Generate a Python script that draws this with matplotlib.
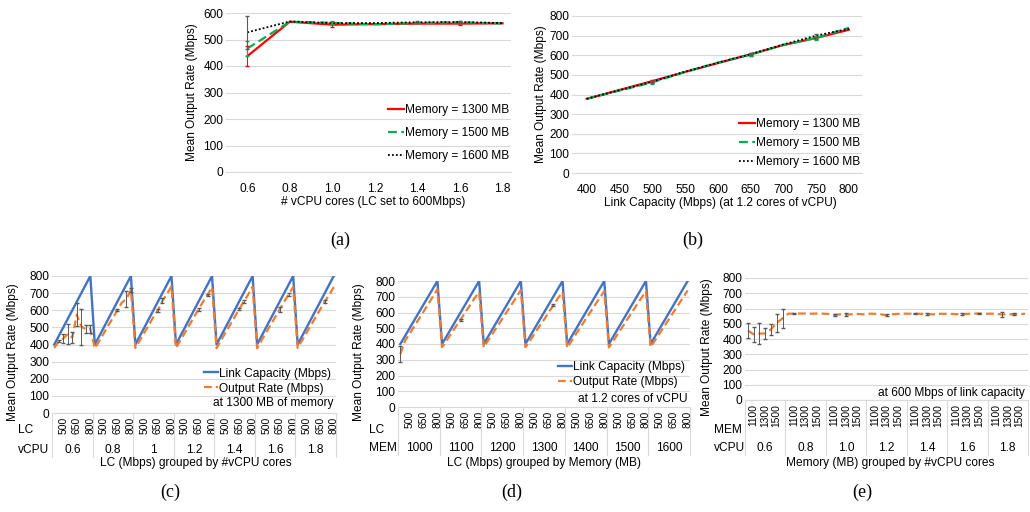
import numpy as np
import matplotlib
matplotlib.use("Agg")
import matplotlib.pyplot as plt
from matplotlib.lines import Line2D

plt.rcParams['font.family'] = ['Liberation Sans', 'DejaVu Sans']

W, H = 1030, 512

# ---------------- data ----------------
a_cores = ['0.6', '0.8', '1.0', '1.2', '1.4', '1.6', '1.8']
a_m1300 = [437, 567, 556, 558, 560, 560, 561]
a_m1300_err = [37, 0, 10, 0, 0, 4, 0]
a_m1500 = [466, 567, 563, 557, 562, 565, 560]
a_m1500_err = [30, 0, 5, 0, 0, 3, 0]
a_m1600 = [527, 568, 562, 562, 565, 566, 562]
a_m1600_err = [63, 0, 0, 0, 3, 3, 0]

b_lc = ['400', '450', '500', '550', '600', '650', '700', '750', '800']
b_m1300 = [378, 423, 468, 515, 560, 605, 652, 688, 730]
b_m1300_err = [0, 0, 6, 0, 0, 8, 0, 5, 0]
b_m1500 = [378, 420, 462, 515, 562, 603, 653, 688, 740]
b_m1500_err = [0, 0, 8, 0, 0, 5, 0, 8, 0]
b_m1600 = [378, 422, 465, 516, 562, 605, 655, 700, 735]
b_m1600_err = [0, 0, 5, 0, 0, 5, 0, 8, 0]

lc_levels = [400, 450, 500, 550, 600, 650, 700, 750, 800]
lc_tick_labels = ['500', '650', '800']

c_groups = ['0.6', '0.8', '1', '1.2', '1.4', '1.6', '1.8']
c_out = [
    [380, 418, 435, 462, 440, 575, 505, 488, 492],
    [378, 420, 466, 512, 555, 600, 645, 665, 718],
    [380, 425, 470, 515, 560, 600, 655, 695, 740],
    [380, 425, 470, 515, 560, 605, 650, 690, 735],
    [378, 425, 470, 515, 560, 605, 650, 690, 738],
    [378, 425, 470, 515, 560, 605, 650, 692, 735],
    [380, 425, 470, 515, 560, 605, 650, 690, 735],
]
c_err = [
    [0, 6, 28, 57, 33, 65, 105, 23, 23],
    [0, 0, 0, 0, 0, 6, 0, 45, 10],
    [0, 0, 0, 0, 0, 8, 15, 0, 0],
    [0, 0, 0, 0, 0, 10, 0, 6, 0],
    [0, 0, 0, 0, 0, 6, 10, 0, 0],
    [0, 0, 0, 0, 0, 15, 0, 6, 0],
    [0, 0, 0, 0, 0, 0, 10, 0, 0],
]

d_groups = ['1000', '1100', '1200', '1300', '1400', '1500', '1600']
d_out = [
    [335, 420, 465, 512, 558, 605, 652, 700, 748],
    [380, 422, 467, 512, 555, 600, 645, 690, 730],
    [378, 425, 470, 515, 560, 605, 650, 695, 742],
    [380, 422, 468, 512, 555, 600, 645, 690, 730],
    [375, 422, 468, 512, 558, 602, 648, 692, 735],
    [378, 422, 468, 512, 558, 602, 648, 692, 735],
    [380, 425, 470, 515, 560, 605, 650, 695, 740],
]
d_err = [
    [52, 0, 0, 0, 0, 0, 0, 0, 0],
    [0, 0, 0, 0, 6, 0, 0, 0, 0],
    [0, 0, 0, 0, 0, 0, 0, 0, 0],
    [0, 0, 0, 0, 0, 0, 6, 0, 0],
    [0, 0, 0, 0, 0, 0, 0, 0, 0],
    [0, 0, 0, 0, 0, 0, 0, 0, 0],
    [0, 0, 0, 0, 0, 0, 0, 0, 0],
]

e_mem_levels = [1000, 1100, 1200, 1300, 1400, 1500, 1600]
e_tick_labels = ['1100', '1300', '1500']
e_groups = ['0.6', '0.8', '1.0', '1.2', '1.4', '1.6', '1.8']
e_out = [
    [456, 430, 436, 436, 463, 505, 535],
    [566, 566, 567, 567, 566, 567, 566],
    [564, 558, 562, 560, 562, 564, 562],
    [566, 565, 562, 556, 562, 565, 566],
    [566, 566, 565, 562, 562, 565, 565],
    [565, 563, 562, 565, 566, 567, 565],
    [566, 566, 560, 563, 562, 564, 565],
]
e_err = [
    [50, 48, 70, 36, 37, 60, 65],
    [0, 4, 0, 0, 0, 0, 0],
    [0, 8, 0, 8, 0, 0, 0],
    [0, 0, 0, 6, 0, 0, 0],
    [0, 4, 0, 6, 0, 0, 0],
    [0, 0, 6, 0, 0, 6, 0],
    [0, 0, 18, 0, 6, 0, 0],
]

# ---------------- style ----------------
GRID = '#d9d9d9'
BLUE = '#4472C4'
ORANGE = '#ED7D31'
ERRC = '#595959'
FS = 8.6

fig = plt.figure(figsize=(W / 100, H / 100), dpi=100)


def box(l, r, t, b):
    return [l / W, 1 - b / H, (r - l) / W, (b - t) / H]


def ftext(x, y, s, **kw):
    fig.text(x / W, 1 - y / H, s, **kw)


def style_axes(ax, ymax):
    ax.set_ylim(0, ymax)
    ax.set_yticks(np.arange(0, ymax + 1, 100))
    ax.grid(axis='y', color=GRID, lw=0.8)
    ax.set_axisbelow(True)
    for s in ['top', 'right', 'left']:
        ax.spines[s].set_visible(False)
    ax.spines['bottom'].set_color(GRID)
    ax.tick_params(axis='both', length=0, labelsize=FS, colors='#000000')
    ax.tick_params(axis='y', pad=2)


def series(ax, x, y, err, color, lw, ls, ecolor, label, capsize=1.5, elw=0.8, z=2):
    x = np.asarray(x, float)
    y = np.asarray(y, float)
    err = np.asarray(err, float)
    ax.plot(x, y, color=color, lw=lw, ls=ls, label=label, zorder=z)
    m = err > 0
    if m.any():
        ax.errorbar(x[m], y[m], yerr=err[m], fmt='none', ecolor=ecolor,
                    elinewidth=elw, capsize=capsize, zorder=z + 0.5)


RED_LS, GREEN_LS, BLACK_LS = '-', (0, (4, 2)), (0, (1, 1.2))


def mem_legend(ax, anchor_y, spacing):
    handles = [Line2D([], [], color='#FF0000', lw=1.6, ls=RED_LS),
               Line2D([], [], color='#00B050', lw=1.6, ls=GREEN_LS),
               Line2D([], [], color='#000000', lw=1.3, ls=BLACK_LS)]
    labels = ['Memory = 1300 MB', 'Memory = 1500 MB', 'Memory = 1600 MB']
    ax.legend(handles, labels, loc='lower right', bbox_to_anchor=(1.01, anchor_y),
              frameon=False, fontsize=FS, handlelength=1.3, handletextpad=0.1,
              labelspacing=spacing, borderaxespad=0)


# ---------------- panel (a) ----------------
ax = fig.add_axes(box(226, 511, 13, 172))
style_axes(ax, 600)
xa = np.arange(len(a_cores))
series(ax, xa, a_m1300, a_m1300_err, '#FF0000', 1.6, RED_LS, '#FF0000', 'Memory = 1300 MB')
series(ax, xa, a_m1500, a_m1500_err, '#00B050', 1.6, GREEN_LS, '#00B050', 'Memory = 1500 MB')
series(ax, xa, a_m1600, a_m1600_err, '#000000', 1.3, BLACK_LS, ERRC, 'Memory = 1600 MB')
ax.set_xlim(-0.5, 6.2)
ax.set_xticks(xa)
ax.set_xticklabels(a_cores)
ax.tick_params(axis='x', pad=8)
mem_legend(ax, 0.03, 0.95)
ax.set_ylabel('Mean Output Rate (Mbps)', fontsize=FS, labelpad=4)
ftext(373, 202, '# vCPU cores (LC set to 600Mbps)', ha='center', va='center', fontsize=FS)

# ---------------- panel (b) ----------------
ax = fig.add_axes(box(572, 862, 16, 173))
style_axes(ax, 800)
xb = np.arange(len(b_lc))
series(ax, xb, b_m1300, b_m1300_err, '#FF0000', 1.6, RED_LS, '#FF0000', 'Memory = 1300 MB')
series(ax, xb, b_m1500, b_m1500_err, '#00B050', 1.6, GREEN_LS, '#00B050', 'Memory = 1500 MB')
series(ax, xb, b_m1600, b_m1600_err, '#000000', 1.3, BLACK_LS, ERRC, 'Memory = 1600 MB')
ax.set_xlim(-0.45, 8.4)
ax.set_xticks(xb)
ax.set_xticklabels(b_lc)
ax.tick_params(axis='x', pad=8)
mem_legend(ax, 0.0, 0.6)
ax.set_ylabel('Mean Output Rate (Mbps)', fontsize=FS, labelpad=2)
ftext(720, 203, 'Link Capacity (Mbps) (at 1.2 cores of vCPU)', ha='center', va='center',
      fontsize=FS)


# ---------------- grouped panels ----------------
def grouped_panel(rect, levels, groups, out, err, tick_idx, tick_labels,
                  row1, row2, sep_bottom_px, grp_y_px, row_x_px, row1_y_px,
                  xlabel, xlabel_x, note, show_lc, leg_y, note_y, tick_fs, ylab_x):
    l, r, t, b = rect
    ax = fig.add_axes(box(l, r, t, b))
    style_axes(ax, 800)
    n = len(levels)
    ng = len(groups)
    x = np.arange(n * ng)
    y = np.concatenate([np.asarray(g, float) for g in out])
    e = np.concatenate([np.asarray(g, float) for g in err])
    if show_lc:
        ax.plot(x, np.tile(levels, ng), color=BLUE, lw=1.7, zorder=2)
    series(ax, x, y, e, ORANGE, 1.6, (0, (3.5, 1.8)), ERRC, 'Output Rate (Mbps)',
           capsize=1.2, elw=0.7, z=3)
    ax.set_xlim(-0.5, n * ng - 0.5)
    ticks = [gi * n + k for gi in range(ng) for k in tick_idx]
    ax.set_xticks(ticks)
    ax.set_xticklabels(tick_labels * ng, rotation=90, fontsize=tick_fs, va='top')
    ax.tick_params(axis='x', pad=3)
    hpx = b - t
    trans = ax.get_xaxis_transform()
    depth = -(sep_bottom_px - b) / hpx
    for gi in range(ng + 1):
        ax.plot([gi * n - 0.5] * 2, [0, depth], transform=trans, color=GRID, lw=0.8,
                clip_on=False)
    gy = -(grp_y_px - b) / hpx
    for gi, g in enumerate(groups):
        ax.text(gi * n + (n - 1) / 2, gy, g, transform=trans, ha='center', va='center',
                fontsize=FS)
    ftext(row_x_px, row1_y_px, row1, ha='left', va='center', fontsize=FS)
    ftext(row_x_px, grp_y_px, row2, ha='left', va='center', fontsize=FS)
    ftext(xlabel_x, 463, xlabel, ha='center', va='center', fontsize=FS)
    ftext(ylab_x, (t + b) / 2 + 8, 'Mean Output Rate (Mbps)', rotation=90, ha='center',
          va='center', fontsize=FS)
    if show_lc:
        handles = [Line2D([], [], color=BLUE, lw=1.7),
                   Line2D([], [], color=ORANGE, lw=1.6, ls=(0, (3.5, 1.8)))]
        ax.legend(handles, ['Link Capacity (Mbps)', 'Output Rate (Mbps)'],
                  loc='lower right', bbox_to_anchor=(1.0, leg_y), frameon=False,
                  fontsize=FS, handlelength=1.2, handletextpad=0.1, labelspacing=0.25,
                  borderaxespad=0)
    ax.text(0.99, note_y, note, transform=ax.transAxes, ha='right', va='center',
            fontsize=FS)
    return ax


grouped_panel((52, 336, 276, 413), lc_levels, c_groups, c_out, c_err, [2, 5, 8],
              lc_tick_labels, 'LC', 'vCPU', 457, 450, 18, 430,
              'LC (Mbps) grouped by #vCPU cores', 196, 'at 1300 MB of memory', True,
              0.1, 0.07, 7.4, 13)

grouped_panel((398, 690, 281, 407), lc_levels, d_groups, d_out, d_err, [2, 5, 8],
              lc_tick_labels, 'LC', 'MEM', 455, 448, 369, 430,
              'LC (Mbps) grouped by Memory (MB)', 544, 'at 1.2 cores of vCPU', True,
              0.11, 0.06, 7.4, 359)

grouped_panel((745, 1028, 278, 400), e_mem_levels, e_groups, e_out, e_err, [1, 3, 5],
              e_tick_labels, 'MEM', 'vCPU', 455, 448, 714, 430,
              'Memory (MB) grouped by #vCPU cores', 890, 'at 600 Mbps of link capacity',
              False, 0.0, 0.06, 7.4, 707)

# ---------------- panel labels ----------------
for (px, py, s) in [(340, 240, '(a)'), (693, 240, '(b)'), (170, 492, '(c)'),
                    (512, 492, '(d)'), (862, 492, '(e)')]:
    ftext(px, py, s, ha='center', va='center', fontsize=13,
          family=['Liberation Serif', 'DejaVu Serif'])

fig.savefig('out.png', dpi=100)
